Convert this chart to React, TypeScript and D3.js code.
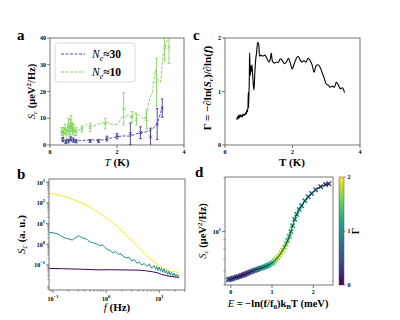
import React from 'react';
import * as d3 from 'd3';

const SERIF = '"Liberation Serif", "DejaVu Serif", serif';
const AXIS = '#555';

// ---- panel a : S_c vs T ----
const blueLineT = [0.35, 0.4, 0.45, 0.51, 0.57, 0.64, 0.69, 0.77, 0.89, 1.09, 1.29, 1.44, 1.68, 1.83, 2.0, 2.18, 2.38, 2.52, 2.67, 2.82, 2.95, 3.05, 3.2, 3.35];
const blueLineV = [2.1, 1.6, 1.3, 1.9, 1.6, 1.8, 1.5, 1.6, 1.6, 1.8, 1.9, 1.7, 2.1, 2.6, 3.1, 3.4, 3.3, 3.9, 4.5, 4.8, 5.2, 5.8, 8.0, 13.8];
const blueErrT = [0.38, 0.47, 0.55, 0.62, 0.7, 0.78, 1.2, 1.45, 1.7, 2.0, 2.4, 2.7, 3.0, 3.2, 3.35];
const blueErrV = [2.0, 1.2, 1.5, 2.3, 1.8, 1.4, 1.5, 1.5, 2.4, 3.3, 4.2, 4.6, 3.0, 7.8, 13.8];
const blueErrE = [0.8, 0.6, 0.7, 0.8, 0.8, 0.6, 0.5, 0.6, 0.9, 1.0, 4.0, 2.2, 3.3, 5.8, 3.4];

const greenLineT = [0.33, 0.36, 0.39, 0.42, 0.45, 0.48, 0.51, 0.54, 0.57, 0.6, 0.63, 0.66, 0.69, 0.72, 0.76, 0.82, 0.9, 0.98, 1.08, 1.18, 1.3, 1.42, 1.55, 1.68, 1.8, 1.92, 2.02, 2.1, 2.18, 2.26, 2.34, 2.42, 2.5, 2.58, 2.66, 2.74, 2.82, 2.9, 2.98, 3.06, 3.14, 3.22, 3.3, 3.38, 3.46, 3.54, 3.6];
const greenLineV = [5.2, 4.2, 5.8, 3.6, 6.5, 4.5, 5.5, 8.0, 3.8, 7.5, 6.0, 8.5, 4.5, 6.2, 5.0, 5.5, 5.8, 6.5, 7.8, 7.2, 7.0, 7.8, 8.2, 8.6, 8.0, 7.6, 7.8, 9.5, 11.0, 10.2, 11.5, 10.0, 11.8, 12.0, 11.0, 10.2, 9.6, 13.0, 17.5, 20.0, 28.0, 24.5, 23.5, 34.0, 38.0, 40.5, 42.0];
const greenErrT = [0.35, 0.4, 0.45, 0.5, 0.55, 0.6, 0.63, 0.67, 0.72, 0.78, 0.95, 1.2, 1.65, 2.2, 2.45, 2.58, 2.88, 3.18, 3.42, 3.55];
const greenErrV = [5.0, 4.5, 6.0, 4.0, 7.5, 6.5, 8.0, 6.0, 5.5, 5.0, 6.0, 6.5, 8.0, 13.5, 10.5, 9.5, 9.5, 23.5, 36.5, 36.5];
const greenErrE = [1.5, 2.0, 1.8, 2.0, 2.5, 3.0, 3.0, 2.0, 2.0, 1.5, 1.2, 1.5, 2.0, 6.0, 2.0, 2.0, 3.5, 9.0, 5.0, 6.0];

// ---- panel c : Gamma vs T ----
const cT = [0.35, 0.37, 0.39, 0.41, 0.43, 0.45, 0.47, 0.49, 0.51, 0.53, 0.55, 0.57, 0.59, 0.61, 0.63, 0.65, 0.67, 0.69, 0.7, 0.72, 0.73, 0.75, 0.77, 0.79, 0.8, 0.82, 0.84, 0.86, 0.88, 0.91, 0.94, 0.97, 1.0, 1.03, 1.07, 1.12, 1.18, 1.24, 1.3, 1.34, 1.37, 1.41, 1.46, 1.52, 1.58, 1.64, 1.7, 1.76, 1.82, 1.88, 1.94, 1.99, 2.04, 2.1, 2.16, 2.22, 2.28, 2.34, 2.4, 2.46, 2.52, 2.58, 2.64, 2.7, 2.76, 2.82, 2.88, 2.94, 3.0, 3.06, 3.12, 3.18, 3.24, 3.3, 3.36, 3.42, 3.48, 3.54];
const cG = [0.47, 0.53, 0.49, 0.56, 0.51, 0.57, 0.53, 0.55, 0.52, 0.58, 0.55, 0.57, 0.56, 0.6, 0.58, 0.66, 0.62, 0.98, 0.7, 1.25, 1.72, 1.3, 1.48, 1.38, 1.5, 1.3, 1.12, 1.03, 1.3, 1.6, 1.75, 1.92, 1.88, 1.66, 1.68, 1.66, 1.68, 1.62, 1.55, 1.6, 1.72, 1.56, 1.53, 1.55, 1.54, 1.61, 1.58, 1.52, 1.55, 1.62, 1.52, 1.42, 1.5, 1.6, 1.66, 1.6, 1.55, 1.58, 1.55, 1.62, 1.58, 1.5, 1.36, 1.48, 1.5, 1.45, 1.35, 1.25, 1.14, 1.12, 1.08, 1.1, 1.08, 1.17, 1.12, 1.05, 1.07, 0.98];

// ---- panel b : spectra ----
const yellowF = [0.085, 0.1, 0.124, 0.15, 0.206, 0.32, 0.49, 0.75, 1.15, 1.78, 2.75, 4.3, 6.6, 10, 15.8, 23.5];
const yellowS = [280, 275, 245, 215, 170, 110, 63, 32, 14.4, 5.8, 1.9, 0.63, 0.21, 0.091, 0.051, 0.044];
const tealF = [0.085, 0.1, 0.12, 0.14, 0.17, 0.2, 0.23, 0.26, 0.3, 0.34, 0.38, 0.43, 0.48, 0.54, 0.6, 0.68, 0.76, 0.85, 0.95, 1.07, 1.2, 1.35, 1.5, 1.7, 1.9, 2.1, 2.4, 2.7, 3.0, 3.4, 3.8, 4.2, 4.7, 5.2, 5.8, 6.5, 7.2, 8.0, 8.5, 9.0, 9.5, 10, 10.5, 11, 11.6, 12.3, 13, 13.7, 14.4, 15.2, 16, 17, 18, 19, 20, 21, 22.2, 23.5];
const tealS = [3.8, 3.6, 3.3, 2.6, 2.0, 1.8, 1.6, 2.0, 2.6, 2.2, 1.9, 1.8, 1.4, 1.2, 1.15, 1.0, 0.85, 0.95, 0.7, 0.55, 0.5, 0.38, 0.45, 0.33, 0.35, 0.26, 0.22, 0.24, 0.16, 0.18, 0.12, 0.14, 0.1, 0.12, 0.085, 0.11, 0.07, 0.095, 0.06, 0.085, 0.055, 0.08, 0.05, 0.07, 0.045, 0.065, 0.04, 0.055, 0.035, 0.05, 0.032, 0.045, 0.03, 0.04, 0.028, 0.036, 0.027, 0.034];
const purpleF = [0.085, 0.15, 0.3, 0.5, 0.75, 1.2, 2, 3, 4.3, 5.5, 7.5, 9.5, 11, 14, 18, 23.5];
const purpleS = [0.068, 0.066, 0.063, 0.06, 0.058, 0.059, 0.058, 0.057, 0.056, 0.053, 0.047, 0.041, 0.035, 0.03, 0.027, 0.025];

// ---- panel d : scaled spectrum ----
const dE = [-0.06, -0.03, 0.0, 0.03, 0.06, 0.1, 0.14, 0.18, 0.22, 0.26, 0.3, 0.34, 0.38, 0.42, 0.46, 0.5, 0.54, 0.58, 0.62, 0.66, 0.7, 0.74, 0.78, 0.82, 0.86, 0.9, 0.94, 0.98, 1.02, 1.06, 1.1, 1.14, 1.18, 1.22, 1.26, 1.3, 1.34, 1.38, 1.42, 1.46, 1.5, 1.55, 1.6, 1.66, 1.72, 1.8, 1.88, 1.96, 2.06, 2.18, 2.3, 2.38];
const dS = [5.35, 5.38, 5.4, 5.43, 5.46, 5.5, 5.53, 5.57, 5.6, 5.65, 5.7, 5.74, 5.8, 5.85, 5.9, 5.95, 6.0, 6.05, 6.1, 6.14, 6.2, 6.24, 6.28, 6.33, 6.38, 6.45, 6.52, 6.6, 6.7, 6.82, 6.98, 7.15, 7.35, 7.58, 7.85, 8.15, 8.5, 8.9, 9.4, 10.0, 10.8, 11.7, 12.5, 13.3, 14.0, 14.9, 15.7, 16.4, 17.2, 17.9, 18.4, 18.6];
const dG = [0.55, 0.52, 0.5, 0.48, 0.45, 0.42, 0.38, 0.35, 0.33, 0.3, 0.28, 0.3, 0.33, 0.36, 0.4, 0.45, 0.5, 0.55, 0.62, 0.7, 0.78, 0.85, 0.92, 1.0, 1.08, 1.15, 1.22, 1.3, 1.4, 1.5, 1.6, 1.68, 1.75, 1.78, 1.72, 1.65, 1.55, 1.45, 1.35, 1.28, 1.2, 1.12, 1.05, 1.0, 0.95, 0.88, 0.8, 0.72, 0.65, 0.55, 0.45, 0.38];

const BLUE = '#3b3b94';
const GREEN = '#7ccf55';

const xMark = (x: number, y: number, s: number) =>
  `M${x - s},${y - s}L${x + s},${y + s}M${x - s},${y + s}L${x + s},${y - s}`;

function Frame({ x0, x1, y0, y1 }: { x0: number; x1: number; y0: number; y1: number }) {
  return <rect x={x0} y={y0} width={x1 - x0} height={y1 - y0} fill="none" stroke={AXIS} strokeWidth={0.8} />;
}

function Pow({ x, y, exp, anchor }: { x: number; y: number; exp: string; anchor: string }) {
  return (
    <text x={x} y={y} textAnchor={anchor} fontSize={6} fontWeight="bold">
      10<tspan dy={-3} fontSize={4.5}>{exp}</tspan>
    </text>
  );
}

export default function App() {
  // panel a
  const ax = d3.scaleLinear().domain([0, 4]).range([50, 184]);
  const ay = d3.scaleLinear().domain([0, 40]).range([145, 38]);
  const aLine = (t: number[], v: number[]) =>
    d3.line<number>().x((_, i) => ax(t[i])).y((d) => ay(d))(v) || '';

  // panel c
  const cx = d3.scaleLinear().domain([0, 4]).range([225, 360]);
  const cy = d3.scaleLinear().domain([0, 2]).range([145, 38]);
  const cPath = d3.line<number>().x((_, i) => cx(cT[i])).y((d) => cy(d)).curve(d3.curveCatmullRom)(cG) || '';

  // panel b
  const bx = d3.scaleLog().domain([0.084, 30.5]).range([49, 185]);
  const by = d3.scaleLog().domain([10 ** -2.21, 10 ** 3.16]).range([290, 179]);
  const bLine = (f: number[], s: number[]) =>
    d3.line<number>().x((_, i) => bx(f[i])).y((d) => by(d))(s) || '';

  // panel d
  const dx = d3.scaleLinear().domain([-0.14, 2.48]).range([225, 333]);
  const dy = d3.scaleLog().domain([5.0, 20.3]).range([285, 177]);
  const cbar = d3.scaleLinear().domain([0, 2]).range([285, 177]);
  const dLine = d3.line<number>().x((_, i) => dx(dE[i])).y((d) => dy(d)).curve(d3.curveMonotoneX)(dS) || '';
  const stops = d3.range(0, 1.0001, 0.1);

  const bMinorY: number[] = [];
  for (let e = -3; e <= 3; e++) for (let m = 2; m <= 9; m++) bMinorY.push(m * 10 ** e);
  const bMinorX: number[] = [];
  for (let e = -2; e <= 1; e++) for (let m = 2; m <= 9; m++) bMinorX.push(m * 10 ** e);
  const dMinor = [5, 6, 7, 8, 9, 20];

  return (
    <svg width={400} height={320} style={{ position: 'absolute', left: 0, top: 0 }} fontFamily={SERIF}>
      <defs>
        <clipPath id="clipA"><rect x={50} y={38} width={134} height={107} /></clipPath>
        <clipPath id="clipB"><rect x={49} y={179} width={136} height={111} /></clipPath>
        <linearGradient id="viridis" x1="0" y1="1" x2="0" y2="0">
          {stops.map((s) => (
            <stop key={s} offset={s} stopColor={d3.interpolateViridis(s)} />
          ))}
        </linearGradient>
      </defs>
      <rect width={400} height={320} fill="#fff" />

      {/* ---------- panel a ---------- */}
      <text x={17} y={40} fontSize={15} fontWeight="bold">a</text>
      <g clipPath="url(#clipA)">
        <path d={aLine(greenLineT, greenLineV)} fill="none" stroke={GREEN} strokeWidth={0.9} strokeDasharray="3,1.5" />
        {greenErrT.map((t, i) => (
          <g key={'ge' + i} stroke={GREEN} strokeWidth={0.9} opacity={0.9}>
            <line x1={ax(t)} x2={ax(t)} y1={ay(greenErrV[i] - greenErrE[i])} y2={ay(greenErrV[i] + greenErrE[i])} />
            <line x1={ax(t) - 1.3} x2={ax(t) + 1.3} y1={ay(greenErrV[i] - greenErrE[i])} y2={ay(greenErrV[i] - greenErrE[i])} />
            <line x1={ax(t) - 1.3} x2={ax(t) + 1.3} y1={ay(greenErrV[i] + greenErrE[i])} y2={ay(greenErrV[i] + greenErrE[i])} />
            <path d={xMark(ax(t), ay(greenErrV[i]), 1.4)} />
          </g>
        ))}
        <path d={aLine(blueLineT, blueLineV)} fill="none" stroke={BLUE} strokeWidth={0.9} strokeDasharray="3,1.5" />
        {blueErrT.map((t, i) => (
          <g key={'be' + i} stroke={BLUE} strokeWidth={0.9}>
            <line x1={ax(t)} x2={ax(t)} y1={ay(Math.max(0, blueErrV[i] - blueErrE[i]))} y2={ay(blueErrV[i] + blueErrE[i])} />
            <line x1={ax(t) - 1.3} x2={ax(t) + 1.3} y1={ay(blueErrV[i] + blueErrE[i])} y2={ay(blueErrV[i] + blueErrE[i])} />
            <line x1={ax(t) - 1.3} x2={ax(t) + 1.3} y1={ay(blueErrV[i] - blueErrE[i])} y2={ay(blueErrV[i] - blueErrE[i])} />
            <path d={xMark(ax(t), ay(blueErrV[i]), 1.4)} />
          </g>
        ))}
      </g>
      <Frame x0={50} x1={184} y0={38} y1={145} />
      {ay.ticks(4).map((v) => (
        <g key={'ayt' + v}>
          <line x1={47} x2={50} y1={ay(v)} y2={ay(v)} stroke={AXIS} strokeWidth={0.8} />
          <text x={46} y={ay(v) + 2} textAnchor="end" fontSize={6} fontWeight="bold">{v}</text>
        </g>
      ))}
      {[0, 2, 4].map((v) => (
        <g key={'axt' + v}>
          <line x1={ax(v)} x2={ax(v)} y1={145} y2={148} stroke={AXIS} strokeWidth={0.8} />
          <text x={ax(v)} y={154} textAnchor="middle" fontSize={6} fontWeight="bold">{v}</text>
        </g>
      ))}
      <rect x={55} y={43} width={80} height={39} rx={3} fill="#fff" fillOpacity={0.85} stroke="#d0d0d0" strokeWidth={0.8} />
      <line x1={61} x2={85} y1={54} y2={54} stroke={BLUE} strokeWidth={0.9} strokeDasharray="3,1.5" />
      <line x1={61} x2={85} y1={72} y2={72} stroke={GREEN} strokeWidth={0.9} strokeDasharray="3,1.5" />
      <text x={92} y={58} fontSize={11.5}>
        <tspan fontStyle="italic">N</tspan>
        <tspan fontStyle="italic" fontSize={8} dy={2.5}>e</tspan>
        <tspan dy={-2.5} fontWeight="bold">≈30</tspan>
      </text>
      <text x={92} y={76} fontSize={11.5}>
        <tspan fontStyle="italic">N</tspan>
        <tspan fontStyle="italic" fontSize={8} dy={2.5}>e</tspan>
        <tspan dy={-2.5} fontWeight="bold">≈10</tspan>
      </text>
      <text transform="translate(35,91.5) rotate(-90)" textAnchor="middle" fontSize={10.5}>
        <tspan fontStyle="italic">S</tspan>
        <tspan fontStyle="italic" fontSize={7} dy={2}>c</tspan>
        <tspan dy={-2} fontWeight="bold"> (μeV</tspan>
        <tspan fontWeight="bold" fontSize={7} dy={-4}>2</tspan>
        <tspan fontWeight="bold" dy={4}>/Hz)</tspan>
      </text>
      <text x={117} y={166} textAnchor="middle" fontSize={11}>
        <tspan fontStyle="italic">T</tspan>
        <tspan fontWeight="bold"> (K)</tspan>
      </text>

      {/* ---------- panel c ---------- */}
      <text x={193} y={40} fontSize={15} fontWeight="bold">c</text>
      <path d={cPath} fill="none" stroke="#000" strokeWidth={1.1} />
      <Frame x0={225} x1={360} y0={38} y1={145} />
      {[0, 1, 2].map((v) => (
        <g key={'cyt' + v}>
          <line x1={222} x2={225} y1={cy(v)} y2={cy(v)} stroke={AXIS} strokeWidth={0.8} />
          <text x={221} y={cy(v) + 2} textAnchor="end" fontSize={6} fontWeight="bold">{v}</text>
        </g>
      ))}
      {[0, 2, 4].map((v) => (
        <g key={'cxt' + v}>
          <line x1={cx(v)} x2={cx(v)} y1={145} y2={148} stroke={AXIS} strokeWidth={0.8} />
          <text x={cx(v)} y={154} textAnchor="middle" fontSize={6} fontWeight="bold">{v}</text>
        </g>
      ))}
      <text transform="translate(211,88) rotate(-90)" textAnchor="middle" fontSize={11} fontWeight="bold">
        Γ = −∂ln(<tspan fontStyle="italic">S</tspan>
        <tspan fontStyle="italic" fontSize={7} dy={2}>c</tspan>
        <tspan dy={-2}>)/∂ln(</tspan>
        <tspan fontStyle="italic">f</tspan>)
      </text>
      <text x={292} y={166} textAnchor="middle" fontSize={11} fontWeight="bold">T (K)</text>

      {/* ---------- panel b ---------- */}
      <text x={17} y={179} fontSize={15} fontWeight="bold">b</text>
      <g clipPath="url(#clipB)" fill="none" strokeWidth={1}>
        <path d={bLine(yellowF, yellowS)} stroke="#fde725" />
        <path d={bLine(tealF, tealS)} stroke="#21918c" />
        <path d={bLine(purpleF, purpleS)} stroke="#440154" />
      </g>
      <Frame x0={49} x1={185} y0={179} y1={290} />
      {bMinorY.filter((v) => by(v) > 179 && by(v) < 290).map((v) => (
        <line key={'bmy' + v} x1={47.3} x2={49} y1={by(v)} y2={by(v)} stroke={AXIS} strokeWidth={0.6} />
      ))}
      {bMinorX.filter((v) => bx(v) > 49 && bx(v) < 185).map((v) => (
        <line key={'bmx' + v} x1={bx(v)} x2={bx(v)} y1={290} y2={291.7} stroke={AXIS} strokeWidth={0.6} />
      ))}
      {[-1, 0, 1, 2, 3].map((e) => (
        <g key={'byt' + e}>
          <line x1={46} x2={49} y1={by(10 ** e)} y2={by(10 ** e)} stroke={AXIS} strokeWidth={0.8} />
          <Pow x={45} y={by(10 ** e) + 2.5} exp={e < 0 ? '−' + -e : String(e)} anchor="end" />
        </g>
      ))}
      {[-1, 0, 1].map((e) => (
        <g key={'bxt' + e}>
          <line x1={bx(10 ** e)} x2={bx(10 ** e)} y1={290} y2={293} stroke={AXIS} strokeWidth={0.8} />
          <Pow x={bx(10 ** e)} y={301} exp={e < 0 ? '−' + -e : String(e)} anchor="middle" />
        </g>
      ))}
      <text transform="translate(25,234.5) rotate(-90)" textAnchor="middle" fontSize={11}>
        <tspan fontStyle="italic">S</tspan>
        <tspan fontStyle="italic" fontSize={7.5} dy={2}>c</tspan>
        <tspan dy={-2} fontWeight="bold"> (a. u.)</tspan>
      </text>
      <text x={117} y={311} textAnchor="middle" fontSize={11}>
        <tspan fontStyle="italic">f</tspan>
        <tspan fontWeight="bold"> (Hz)</tspan>
      </text>

      {/* ---------- panel d ---------- */}
      <text x={195} y={177} fontSize={15} fontWeight="bold">d</text>
      {dE.map((e, i) => (
        <path key={'dm' + i} d={xMark(dx(e), dy(dS[i]), 2.2)} stroke={d3.interpolateViridis(dG[i] / 2)} strokeWidth={1.6} fill="none" />
      ))}
      <path d={dLine} fill="none" stroke="#000" strokeWidth={0.7} />
      <Frame x0={225} x1={333} y0={177} y1={285} />
      {dMinor.map((v) => (
        <line key={'dmy' + v} x1={223.3} x2={225} y1={dy(v)} y2={dy(v)} stroke={AXIS} strokeWidth={0.6} />
      ))}
      <line x1={222} x2={225} y1={dy(10)} y2={dy(10)} stroke={AXIS} strokeWidth={0.8} />
      <Pow x={221} y={dy(10) + 2.5} exp="1" anchor="end" />
      {[0, 1, 2].map((v) => (
        <g key={'dxt' + v}>
          <line x1={dx(v)} x2={dx(v)} y1={285} y2={288} stroke={AXIS} strokeWidth={0.8} />
          <text x={dx(v)} y={294} textAnchor="middle" fontSize={6} fontWeight="bold">{v}</text>
        </g>
      ))}
      <rect x={339} y={177} width={5} height={108} fill="url(#viridis)" stroke={AXIS} strokeWidth={0.5} />
      {[0, 1, 2].map((v) => (
        <g key={'cbt' + v}>
          <line x1={344} x2={346} y1={cbar(v)} y2={cbar(v)} stroke={AXIS} strokeWidth={0.6} />
          <text x={347.5} y={cbar(v) + 2} fontSize={6} fontWeight="bold">{v}</text>
        </g>
      ))}
      <text transform="translate(359,231) rotate(-90)" textAnchor="middle" fontSize={10} fontWeight="bold">Γ</text>
      <text transform="translate(206,231) rotate(-90)" textAnchor="middle" fontSize={10.5}>
        <tspan fontStyle="italic">S</tspan>
        <tspan fontStyle="italic" fontSize={7} dy={2}>c</tspan>
        <tspan dy={-2} fontWeight="bold"> (μeV</tspan>
        <tspan fontWeight="bold" fontSize={7} dy={-4}>2</tspan>
        <tspan fontWeight="bold" dy={4}>/Hz)</tspan>
      </text>
      <text x={278} y={307} textAnchor="middle" fontSize={10.5}>
        <tspan fontStyle="italic">E</tspan>
        <tspan fontWeight="bold"> = −ln(f/f</tspan>
        <tspan fontWeight="bold" fontSize={7} dy={2}>0</tspan>
        <tspan fontWeight="bold" dy={-2}>)k</tspan>
        <tspan fontWeight="bold" fontSize={7} dy={2}>B</tspan>
        <tspan fontWeight="bold" dy={-2}>T (meV)</tspan>
      </text>
    </svg>
  );
}
